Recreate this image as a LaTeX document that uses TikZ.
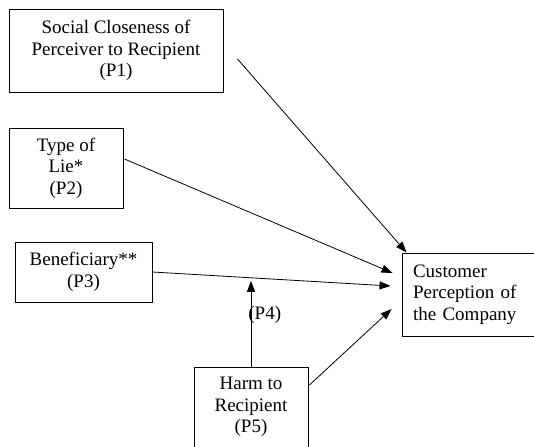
\documentclass[tikz,border=0pt]{standalone}
\usepackage{fontspec}
\setmainfont{Liberation Serif}
\usetikzlibrary{positioning, arrows.meta, calc}

\begin{document}
\begin{tikzpicture}[x=1pt, y=-1pt,
    factor/.style={draw, line width=0.9pt, align=center, inner sep=0pt,
                   font=\fontsize{19}{21.5}\selectfont},
    link/.style={-{Triangle[length=11pt, width=8pt]}, line width=0.8pt}]
        \useasboundingbox (0,0) rectangle (534,446);
        \clip (0,0) rectangle (534,446);

        % Einflussfaktoren
        \node[factor, minimum width=214pt, minimum height=83pt] (p1) at (116,50.5)
            {Social Closeness of\\Perceiver to Recipient\\(P1)};
        \node[factor, minimum width=114pt, minimum height=80pt] (p2) at (66,168)
            {Type of\\Lie*\\(P2)};
        \node[factor, minimum width=137pt, minimum height=60pt] (p3) at (83.5,272)
            {Beneficiary**\\(P3)};
        \node[factor, minimum width=114pt, inner ysep=10pt, text depth=40pt,
              anchor=north] (harm) at (251,367)
            {Harm to\\Recipient\\(P5)};

        % Zielgroesse
        \node[factor, align=left, text width=116pt, minimum width=138pt, minimum height=83pt,
              inner xsep=11pt] (cust) at (471,294.5)
            {Customer\\Perception of\\the Company};

        % Pfeile
        \draw[link] ($(p1.east)+(14,8.5)$) -- ($(cust.north west)+(5,0)$);
        \draw[link] ($(p2.east)+(1,-9)$) -- ($(cust.west)+(-9,-21.5)$);
        \coordinate (p3end) at ($(cust.west)+(-11,-8.5)$);
        \draw[link] (p3.east) -- (p3end);
        \coordinate (mod) at ($(p3.east)!0.418!(p3end)$);
        \draw[link, shorten >=3pt] (harm.north) -- (harm.north |- mod)
            node[pos=0.58, right, inner sep=0pt, xshift=-3pt,
                 font=\fontsize{19}{21.5}\selectfont] (p4) {(P4)};
        \draw[link] ($(harm.north east)+(1,18)$) -- ($(cust.west)+(-10,14.5)$);
    \end{tikzpicture}
\end{document}
